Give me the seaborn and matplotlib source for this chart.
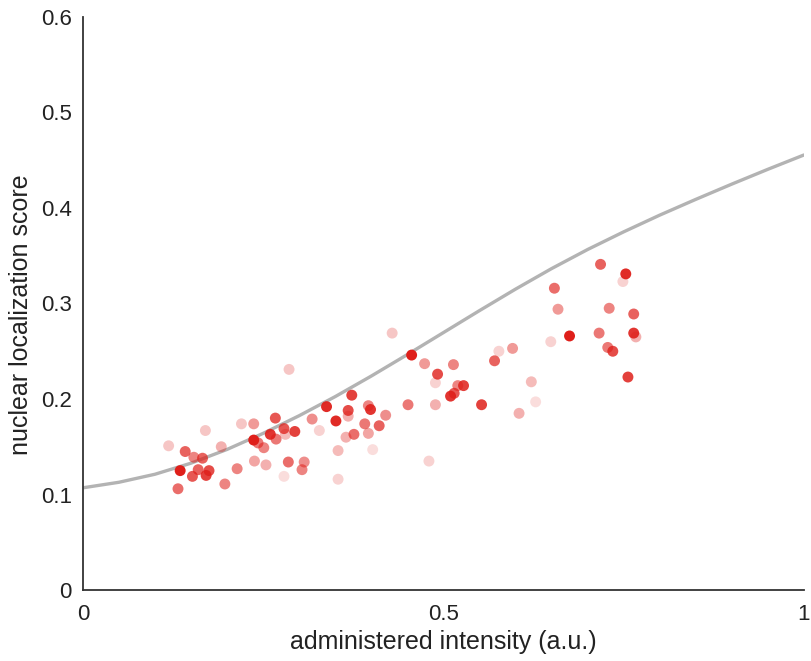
import numpy as np
import pandas as pd
import matplotlib
matplotlib.use("Agg")
import matplotlib.pyplot as plt
import seaborn as sns
from matplotlib.colors import to_rgba

# ---- data ----
intensity = [0.718, 0.753, 0.749, 0.654, 0.659, 0.730, 0.764, 0.429, 0.716, 0.764,
             0.767, 0.675, 0.649, 0.577, 0.596, 0.728, 0.735, 0.456, 0.474, 0.514,
             0.571, 0.286, 0.492, 0.756, 0.489, 0.622, 0.520, 0.528, 0.515, 0.510,
             0.373, 0.451, 0.489, 0.553, 0.628, 0.338, 0.368, 0.396, 0.399, 0.368,
             0.420, 0.318, 0.351, 0.605, 0.267, 0.391, 0.411, 0.220, 0.237, 0.279,
             0.294, 0.328, 0.170, 0.260, 0.376, 0.396, 0.365, 0.281, 0.268, 0.237,
             0.243, 0.251, 0.119, 0.192, 0.142, 0.354, 0.402, 0.154, 0.166, 0.480,
             0.238, 0.285, 0.307, 0.254, 0.214, 0.304, 0.135, 0.160, 0.175, 0.152,
             0.171, 0.279, 0.354, 0.197, 0.132]
score = [0.341, 0.331, 0.323, 0.316, 0.294, 0.295, 0.289, 0.269, 0.269, 0.269,
         0.265, 0.266, 0.260, 0.250, 0.253, 0.254, 0.250, 0.246, 0.237, 0.236,
         0.240, 0.231, 0.226, 0.223, 0.217, 0.218, 0.214, 0.214, 0.206, 0.203,
         0.204, 0.194, 0.194, 0.194, 0.197, 0.192, 0.188, 0.193, 0.189, 0.182,
         0.183, 0.179, 0.177, 0.185, 0.180, 0.174, 0.172, 0.174, 0.174, 0.169,
         0.166, 0.167, 0.167, 0.163, 0.163, 0.164, 0.160, 0.163, 0.158, 0.157,
         0.154, 0.149, 0.151, 0.150, 0.145, 0.146, 0.147, 0.139, 0.138, 0.135,
         0.135, 0.134, 0.134, 0.131, 0.127, 0.126, 0.125, 0.126, 0.125, 0.119,
         0.120, 0.119, 0.116, 0.111, 0.106]
opacity = [0.70, 0.95, 0.20, 0.65, 0.45, 0.55, 0.70, 0.25, 0.60, 0.90,
           0.35, 1.00, 0.20, 0.20, 0.45, 0.60, 0.80, 1.00, 0.45, 0.55,
           0.70, 0.25, 0.80, 0.85, 0.20, 0.30, 0.55, 0.85, 0.75, 0.90,
           0.85, 0.60, 0.35, 0.85, 0.15, 0.95, 0.80, 0.55, 0.90, 0.35,
           0.50, 0.50, 0.95, 0.35, 0.75, 0.60, 0.70, 0.25, 0.45, 0.75,
           0.85, 0.20, 0.25, 0.90, 0.65, 0.40, 0.35, 0.30, 0.60, 1.00,
           0.60, 0.55, 0.25, 0.35, 0.70, 0.30, 0.15, 0.55, 0.70, 0.20,
           0.40, 0.65, 0.50, 0.35, 0.55, 0.55, 1.00, 0.70, 0.80, 0.75,
           0.85, 0.15, 0.20, 0.55, 0.65]

curve_x = [0.00, 0.05, 0.10, 0.15, 0.20, 0.25, 0.30, 0.35, 0.40, 0.45, 0.50,
           0.55, 0.60, 0.65, 0.70, 0.75, 0.80, 0.85, 0.90, 0.95, 1.00]
curve_y = [0.107, 0.1128, 0.1212, 0.1328, 0.1472, 0.164, 0.1825, 0.2025, 0.224, 0.2465, 0.2695,
           0.2925, 0.315, 0.3365, 0.3565, 0.375, 0.3925, 0.409, 0.425, 0.4405, 0.4555]

x_ticks = [0, 0.5, 1]
x_tick_labels = ["0", "0.5", "1"]
y_ticks = [0, 0.1, 0.2, 0.3, 0.4, 0.5, 0.6]
y_tick_labels = ["0", "0.1", "0.2", "0.3", "0.4", "0.5", "0.6"]

# ---- plotting ----
sns.set_style("white")
plt.rcParams["font.family"] = ["Liberation Sans", "DejaVu Sans"]

fig = plt.figure(figsize=(8.12, 6.61), dpi=100)
ax = fig.add_axes([0.102, 0.1074, 0.888, 0.8669])

df = pd.DataFrame({"x": intensity, "y": score})
curve = pd.DataFrame({"x": curve_x, "y": curve_y})

sns.lineplot(data=curve, x="x", y="y", ax=ax, color="#b3b3b3", linewidth=2.4, zorder=1)
sns.scatterplot(data=df, x="x", y="y", ax=ax, s=62, linewidth=0, zorder=2)

base = to_rgba("#df1f1a")
cols = np.array([(base[0], base[1], base[2], a) for a in opacity])
coll = ax.collections[-1]
coll.set_alpha(None)
coll.set_facecolor(cols)
coll.set_edgecolor("none")

ax.set_xlim(0, 1)
ax.set_ylim(0, 0.6)
ax.set_xticks(x_ticks)
ax.set_xticklabels(x_tick_labels)
ax.set_yticks(y_ticks)
ax.set_yticklabels(y_tick_labels)
ax.set_xlabel("administered intensity (a.u.)", fontsize=18, color="#222222", labelpad=4)
ax.set_ylabel("nuclear localization score", fontsize=18, color="#222222")
ax.yaxis.set_label_coords(-0.069, 0.48)

for side in ["top", "right"]:
    ax.spines[side].set_visible(False)
for side in ["left", "bottom"]:
    ax.spines[side].set_color("#333333")
    ax.spines[side].set_linewidth(1.3)
ax.tick_params(axis="both", direction="in", length=6, width=1.3, color="#333333",
               labelsize=16, labelcolor="#222222", pad=8)
ax.tick_params(axis="x", pad=10)

fig.savefig("out.png", dpi=100)
